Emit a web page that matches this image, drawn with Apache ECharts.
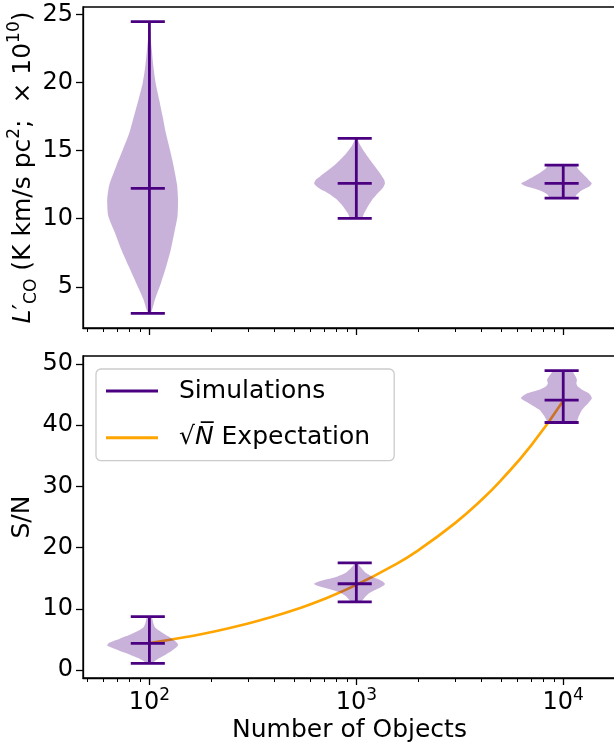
<!DOCTYPE html>
<html><head><meta charset="utf-8">
<script src="https://cdn.jsdelivr.net/npm/echarts@6/dist/echarts.min.js"></script>
<style>html,body{margin:0;padding:0;background:#fff}#c{width:614px;height:746px}</style>
</head><body><div id="c"></div>
<script>
// ---------- data ----------
const positions = [100, 1000, 10000];
const xTickValues = [100, 1000, 10000];
const xTickExponents = ['2', '3', '4'];
const xMinorTicks = [50,60,70,80,90,200,300,400,500,600,700,800,900,2000,3000,4000,5000,6000,7000,8000,9000];
const lcoTicks = [5, 10, 15, 20, 25];
const snTicks = [0, 10, 20, 30, 40, 50];

// top panel: L'CO (x 1e10)
const lcoMin  = [3.04, 10.02, 11.52];
const lcoMax  = [24.49, 15.9, 13.94];
const lcoMean = [12.23, 12.6, 12.6];
// violin outlines: [value, relative half-width]
const lcoShape100 = [[3.04,0.03],[3.3,0.08],[4.07,0.17],[5.3,0.37],[6.5,0.55],[7.75,0.72],[8.97,0.85],[10.2,0.98],[11.4,1.0],[12.5,0.96],[13.9,0.82],[15.1,0.68],[16.3,0.535],[17.55,0.42],[18.8,0.3],[20.0,0.19],[21.2,0.12],[22.45,0.07],[23.5,0.03],[24.49,0.0]];
const lcoShape1000 = [[10.02,0.17],[10.4,0.24],[10.68,0.31],[11.1,0.42],[11.42,0.52],[11.75,0.66],[12.03,0.8],[12.3,0.93],[12.6,1.0],[12.9,0.96],[13.13,0.88],[13.5,0.74],[13.87,0.6],[14.3,0.45],[14.85,0.27],[15.4,0.12],[15.9,0.02]];
const lcoShape10000 = [[11.52,0.36],[11.75,0.42],[12.0,0.55],[12.2,0.72],[12.4,0.92],[12.6,1.0],[12.8,0.9],[13.1,0.75],[13.4,0.6],[13.7,0.47],[13.94,0.4]];

// bottom panel: S/N
const snMin  = [1.09, 11.15, 40.44];
const snMax  = [8.74, 17.5, 48.9];
const snMean = [4.37, 14.1, 44.1];
const snShape100 = [[1.09,0.08],[1.53,0.18],[2.0,0.33],[2.35,0.46],[2.8,0.62],[3.17,0.76],[3.6,0.9],[3.99,1.0],[4.4,0.97],[4.75,0.88],[5.08,0.76],[5.5,0.62],[5.9,0.48],[6.45,0.3],[7.0,0.17],[7.6,0.12],[8.1,0.1],[8.74,0.06]];
const snShape1000 = [[11.15,0.15],[11.6,0.22],[12.1,0.3],[12.6,0.42],[13.0,0.58],[13.4,0.78],[13.8,0.95],[14.1,1.0],[14.5,0.9],[14.9,0.7],[15.3,0.5],[15.8,0.32],[16.4,0.2],[17.0,0.1],[17.5,0.04]];
const snShape10000 = [[40.44,0.41],[41.4,0.5],[42.5,0.62],[43.6,0.85],[44.4,1.0],[45.2,0.88],[45.8,0.62],[46.3,0.47],[46.8,0.42],[47.4,0.44],[47.9,0.4],[48.4,0.34],[48.9,0.28]];

// sqrt(N) expectation curve
const sqrtNCurve = [[100,4.4],[150,5.4],[200,6.2],[300,7.6],[400,8.8],[500,9.8],[700,11.6],[1000,13.9],[1500,17.0],[2000,19.6],[3000,24.0],[4000,27.7],[5000,31.0],[7000,36.7],[10000,44.0]];

// ---------- styles ----------
const FONT = 'DejaVu Sans';
const PURPLE = '#4B0082';
const FILL = 'rgba(75,0,130,0.3)';
const ORANGE = '#FFA500';
const HALF = 0.375;   // half of violin width, relative to position
const CAP = 0.1875;   // half of cap width, relative to position
const XMIN = 47.75, XMAX = 17990;

function violinRenderer(shapes) {
  return function (params, api) {
    const i = params.dataIndex;
    const pos = api.value(0), mn = api.value(1), mx = api.value(2), mean = api.value(3);
    const shape = shapes[i];
    const right = shape.map(p => api.coord([pos * (1 + HALF * p[1]), p[0]]));
    const left = shape.slice().reverse().map(p => api.coord([pos * (1 - HALF * p[1]), p[0]]));
    const pts = right.concat(left);
    const lineStyle = { stroke: PURPLE, lineWidth: 2.8 };
    const hl = (v) => {
      const a = api.coord([pos * (1 - CAP), v]), b = api.coord([pos * (1 + CAP), v]);
      return { type: 'line', shape: { x1: a[0], y1: a[1], x2: b[0], y2: b[1] }, style: lineStyle };
    };
    const top = api.coord([pos, mx]), bot = api.coord([pos, mn]);
    return {
      type: 'group',
      children: [
        { type: 'polygon', shape: { points: pts, smooth: 0.2 }, style: { fill: FILL } },
        { type: 'line', shape: { x1: top[0], y1: top[1], x2: bot[0], y2: bot[1] }, style: lineStyle },
        hl(mx), hl(mn), hl(mean)
      ]
    };
  };
}

const lcoShapes = [lcoShape100, lcoShape1000, lcoShape10000];
const snShapes = [snShape100, snShape1000, snShape10000];
const lcoData = positions.map((p, i) => [p, lcoMin[i], lcoMax[i], lcoMean[i]]);
const snData = positions.map((p, i) => [p, snMin[i], snMax[i], snMean[i]]);

function majorX(gridIndex, withLabels) {
  const ax = {
    type: 'log', logBase: 10, gridIndex, min: XMIN, max: XMAX, position: 'bottom',
    axisLine: { show: true, onZero: false, lineStyle: { color: '#000', width: 1.3 } },
    axisTick: { show: true, customValues: xTickValues, length: 7, lineStyle: { color: '#000', width: 1.3 } },
    axisLabel: { show: withLabels, customValues: xTickValues, margin: 9, color: '#000', fontFamily: FONT,
      formatter: v => '{b|10}{s|' + xTickExponents[xTickValues.indexOf(v)] + '}',
      rich: { b: { fontSize: 24, fontFamily: FONT, color: '#000', lineHeight: 32 },
              s: { fontSize: 17, fontFamily: FONT, color: '#000', lineHeight: 18, verticalAlign: 'top' } } },
    splitLine: { show: false }, minorTick: { show: false }
  };
  if (withLabels) {
    ax.name = 'Number of Objects';
    ax.nameLocation = 'middle';
    ax.nameGap = 40;
    ax.nameMoveOverlap = false;
    ax.nameTextStyle = { fontSize: 25, fontFamily: FONT, color: '#000' };
  }
  return ax;
}
function minorX(gridIndex) {
  return {
    type: 'log', logBase: 10, gridIndex, min: XMIN, max: XMAX, position: 'bottom',
    axisLine: { show: false, onZero: false },
    axisTick: { show: true, customValues: xMinorTicks, length: 4, lineStyle: { color: '#000', width: 1 } },
    axisLabel: { show: false }, splitLine: { show: false }
  };
}
function yAx(gridIndex, min, max, ticks, name, nameGap, nameStyle) {
  return {
    type: 'value', gridIndex, min, max,
    axisLine: { show: true, onZero: false, lineStyle: { color: '#000', width: 1.3 } },
    axisTick: { show: true, customValues: ticks, length: 7, lineStyle: { color: '#000', width: 1.3 } },
    axisLabel: { customValues: ticks, margin: 10, fontSize: 24, fontFamily: FONT, color: '#000' },
    splitLine: { show: false },
    name, nameLocation: 'middle', nameGap, nameRotate: 90, nameMoveOverlap: false, nameTextStyle: nameStyle
  };
}

const chart = echarts.init(document.getElementById('c'), null, { renderer: 'canvas' });
chart.setOption({
  animation: false,
  backgroundColor: '#fff',
  grid: [
    { left: 83, right: -2, top: 7, height: 321, show: true, borderColor: '#000', borderWidth: 1.3, backgroundColor: 'transparent', outerBoundsMode: 'none', containLabel: false },
    { left: 83, right: -2, top: 356, height: 322, show: true, borderColor: '#000', borderWidth: 1.3, backgroundColor: 'transparent', outerBoundsMode: 'none', containLabel: false }
  ],
  xAxis: [majorX(0, false), minorX(0), majorX(1, true), minorX(1)],
  yAxis: [
    yAx(0, 1.97, 25.56, lcoTicks,
      '{it|L}{n|′}{sub|CO}{n| (K km/s pc}{sup|2}{n|;  × 10}{sup|10}{n|)}', 43,
      { fontSize: 25, fontFamily: FONT, color: '#000',
        rich: { it: { fontSize: 25, fontStyle: 'italic', fontFamily: FONT, color: '#000', lineHeight: 34 },
                n: { fontSize: 25, fontFamily: FONT, color: '#000', lineHeight: 34 },
                sub: { fontSize: 17, fontFamily: FONT, color: '#000', lineHeight: 20, verticalAlign: 'bottom' },
                sup: { fontSize: 17, fontFamily: FONT, color: '#000', lineHeight: 18, verticalAlign: 'top' } } }),
    yAx(1, -1.3, 51.3, snTicks, 'S/N', 44, { fontSize: 25, fontFamily: FONT, color: '#000', lineHeight: 34 })
  ],
  legend: {
    left: 96, top: 369, orient: 'vertical',
    padding: [7, 24, 8, 10], itemGap: 16.7,
    itemWidth: 52, itemHeight: 3,
    backgroundColor: 'rgba(255,255,255,0.8)', borderColor: '#cccccc', borderWidth: 1.3, borderRadius: 5,
    data: [
      { name: 'Simulations', icon: 'rect', itemStyle: { color: PURPLE } },
      { name: 'sqrtN', icon: 'rect', itemStyle: { color: ORANGE } }
    ],
    formatter: n => n === 'sqrtN' ? '{r|√}{it|N\u0305}{t| Expectation}' : '{t|' + n + '}',
    textStyle: { fontSize: 25, fontFamily: FONT, color: '#000', lineHeight: 30, padding: [0, 0, 0, 16],
      rich: { t: { fontSize: 25, fontFamily: FONT, color: '#000', lineHeight: 30 },
              r: { fontSize: 25, fontFamily: FONT, color: '#000', lineHeight: 30 },
              it: { fontSize: 25, fontStyle: 'italic', fontFamily: FONT, color: '#000', lineHeight: 30 } } }
  },
  series: [
    { name: 'SimulationsTop', type: 'custom', xAxisIndex: 0, yAxisIndex: 0, data: lcoData,
      renderItem: violinRenderer(lcoShapes), itemStyle: { color: PURPLE }, z: 3 },
    { name: 'sqrtN', type: 'line', xAxisIndex: 2, yAxisIndex: 1, data: sqrtNCurve, smooth: true,
      showSymbol: false, symbol: 'none', lineStyle: { color: ORANGE, width: 2.6 }, itemStyle: { color: ORANGE }, z: 2 },
    { name: 'Simulations', type: 'custom', xAxisIndex: 2, yAxisIndex: 1, data: snData,
      renderItem: violinRenderer(snShapes), itemStyle: { color: PURPLE }, z: 3 }
  ]
});
</script></body></html>
